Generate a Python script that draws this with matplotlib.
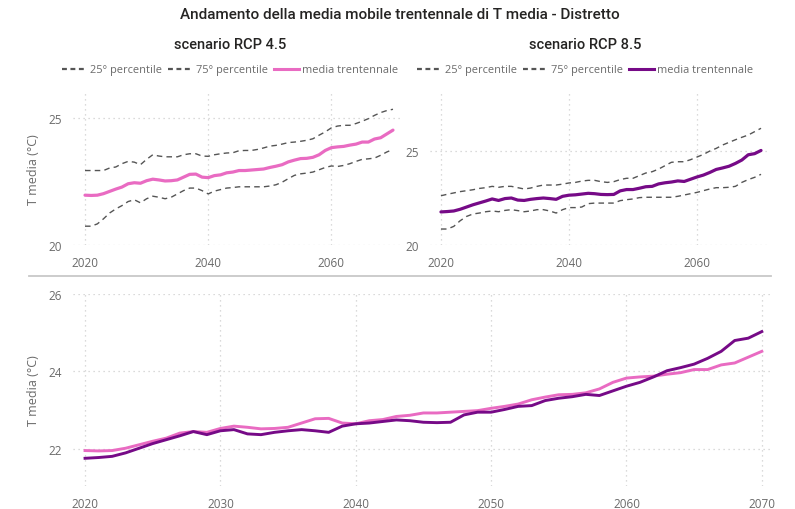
import matplotlib
matplotlib.use("Agg")
import matplotlib.pyplot as plt
from matplotlib.lines import Line2D

# anni della media mobile trentennale
anni = list(range(2020, 2071))

# scenario RCP 4.5
rcp45_media = [21.96, 21.95, 21.96, 22.02, 22.11, 22.20, 22.28, 22.41, 22.45, 22.43,
               22.53, 22.59, 22.56, 22.52, 22.53, 22.56, 22.67, 22.78, 22.79, 22.67,
               22.65, 22.73, 22.76, 22.84, 22.87, 22.93, 22.93, 22.95, 22.97, 22.99,
               23.05, 23.10, 23.16, 23.27, 23.34, 23.40, 23.41, 23.45, 23.55, 23.72,
               23.83, 23.86, 23.88, 23.93, 23.97, 24.05, 24.05, 24.17, 24.22, 24.37,
               24.52]
rcp45_p25 = [20.74, 20.74, 20.83, 21.03, 21.26, 21.42, 21.55, 21.71, 21.78, 21.66,
             21.82, 21.92, 21.88, 21.82, 21.88, 22.01, 22.14, 22.24, 22.24, 22.14,
             22.01, 22.12, 22.18, 22.24, 22.26, 22.29, 22.29, 22.29, 22.29, 22.29,
             22.32, 22.37, 22.47, 22.61, 22.74, 22.80, 22.83, 22.87, 22.96, 23.05,
             23.11, 23.09, 23.13, 23.20, 23.29, 23.37, 23.39, 23.42, 23.53, 23.66,
             23.76]
rcp45_p75 = [22.93, 22.93, 22.93, 22.93, 23.03, 23.07, 23.20, 23.29, 23.26, 23.16,
             23.37, 23.55, 23.50, 23.47, 23.47, 23.47, 23.55, 23.59, 23.59, 23.50,
             23.49, 23.55, 23.59, 23.62, 23.63, 23.71, 23.72, 23.72, 23.76, 23.82,
             23.89, 23.92, 23.97, 24.03, 24.05, 24.08, 24.12, 24.18, 24.32, 24.45,
             24.61, 24.68, 24.71, 24.71, 24.78, 24.87, 24.97, 25.10, 25.21, 25.29,
             25.34]

# scenario RCP 8.5
rcp85_media = [21.76, 21.78, 21.81, 21.90, 22.02, 22.14, 22.24, 22.34, 22.45, 22.37,
               22.47, 22.50, 22.39, 22.37, 22.43, 22.47, 22.50, 22.47, 22.43, 22.59,
               22.65, 22.67, 22.71, 22.75, 22.73, 22.69, 22.68, 22.69, 22.88, 22.95,
               22.95, 23.02, 23.10, 23.12, 23.25, 23.31, 23.35, 23.41, 23.38, 23.50,
               23.62, 23.72, 23.86, 24.02, 24.10, 24.19, 24.34, 24.52, 24.80, 24.86,
               25.03]
rcp85_p25 = [20.85, 20.85, 20.99, 21.29, 21.52, 21.65, 21.70, 21.77, 21.81, 21.77,
             21.84, 21.88, 21.83, 21.77, 21.81, 21.88, 21.88, 21.81, 21.70, 21.88,
             21.99, 21.99, 22.02, 22.20, 22.23, 22.23, 22.23, 22.23, 22.36, 22.41,
             22.45, 22.52, 22.54, 22.54, 22.54, 22.54, 22.54, 22.59, 22.66, 22.73,
             22.80, 22.89, 22.98, 23.05, 23.05, 23.07, 23.12, 23.33, 23.48, 23.60,
             23.76]
rcp85_p75 = [22.62, 22.70, 22.77, 22.84, 22.89, 22.94, 23.01, 23.05, 23.12, 23.07,
             23.12, 23.12, 23.05, 22.98, 23.03, 23.12, 23.19, 23.19, 23.19, 23.24,
             23.30, 23.33, 23.40, 23.44, 23.44, 23.37, 23.33, 23.37, 23.48, 23.55,
             23.55, 23.69, 23.83, 23.90, 24.04, 24.22, 24.40, 24.43, 24.43, 24.54,
             24.68, 24.82, 25.00, 25.14, 25.32, 25.46, 25.60, 25.73, 25.85, 26.03,
             26.21]

ROSA = "#e96bc2"
VIOLA = "#760a87"
TRATT = "#555555"
GRIGIO_TXT = "#6a6a6a"
GRIGLIA = "#cfcfcf"
DASH = (0, (4, 3))

plt.rcParams["font.family"] = ["Open Sans", "DejaVu Sans"]
TITLE_FONT = ["Roboto", "DejaVu Sans"]

W, H = 795, 510
fig = plt.figure(figsize=(W / 100, H / 100), dpi=100)


def box(x0, y0, x1, y1):
    # rettangolo in pixel (origine in alto a sinistra) -> frazioni di figura
    return [x0 / W, 1 - y1 / H, (x1 - x0) / W, (y1 - y0) / H]


def stile(ax, yticks, xticks):
    for s in ax.spines.values():
        s.set_visible(False)
    ax.set_yticks(yticks)
    ax.set_xticks(xticks)
    ax.tick_params(length=0, colors=GRIGIO_TXT, labelsize=8.5, pad=8)
    ax.grid(True, color=GRIGLIA, linestyle=(0, (1, 3)), linewidth=0.9)
    ax.set_axisbelow(True)


def pannello(ax, media, p25, p75, colore, ylim, xlim):
    ax.plot(anni, p25, color=TRATT, lw=1.0, ls=DASH)
    ax.plot(anni, p75, color=TRATT, lw=1.0, ls=DASH)
    ax.plot(anni, media, color=colore, lw=2.3, solid_capstyle="round")
    ax.set_ylim(*ylim)
    ax.set_xlim(*xlim)
    stile(ax, [20, 25], [2020, 2040, 2060])


ax1 = fig.add_axes(box(73, 93, 400, 246))
pannello(ax1, rcp45_media, rcp45_p25, rcp45_p75, ROSA, (20, 26.02), (2018.05, 2071.14))
ax1.set_ylabel("T media (°C)", color=GRIGIO_TXT, fontsize=9, labelpad=6)

ax2 = fig.add_axes(box(430, 93, 768, 246))
pannello(ax2, rcp85_media, rcp85_p25, rcp85_p75, VIOLA, (20, 28.14), (2018.29, 2071.09))

ax3 = fig.add_axes(box(73, 295, 771, 487))
ax3.plot(anni, rcp45_media, color=ROSA, lw=2.1)
ax3.plot(anni, rcp85_media, color=VIOLA, lw=2.1)
ax3.set_ylim(21.045, 26)
ax3.set_xlim(2019.11, 2070.68)
stile(ax3, [22, 24, 26], [2020, 2030, 2040, 2050, 2060, 2070])
ax3.set_ylabel("T media (°C)", color=GRIGIO_TXT, fontsize=9, labelpad=6)

# titoli
fig.text(400 / W, 1 - 15 / H, "Andamento della media mobile trentennale di T media - Distretto",
         ha="center", va="center", fontsize=11, color="#252423", family=TITLE_FONT,
         weight="medium")
fig.text(230 / W, 1 - 45 / H, "scenario RCP 4.5", ha="center", va="center",
         fontsize=10.5, color="#252423", family=TITLE_FONT, weight="medium")
fig.text(585 / W, 1 - 45 / H, "scenario RCP 8.5", ha="center", va="center",
         fontsize=10.5, color="#252423", family=TITLE_FONT, weight="medium")

# legende
for cx, colore in [(230, ROSA), (585, VIOLA)]:
    handles = [Line2D([], [], color=TRATT, lw=1.6, ls=(0, (2.2, 1.6))),
               Line2D([], [], color=TRATT, lw=1.6, ls=(0, (2.2, 1.6))),
               Line2D([], [], color=colore, lw=2.2)]
    fig.legend(handles, ["25° percentile", "75° percentile", "media trentennale"],
               loc="center", bbox_to_anchor=(cx / W, 1 - 71 / H), ncol=3,
               frameon=False, fontsize=7.9, labelcolor=GRIGIO_TXT,
               handlelength=2.3, handletextpad=0.3, columnspacing=0.5,
               borderaxespad=0, borderpad=0)

# linea di separazione tra i pannelli
fig.add_artist(Line2D([29 / W, 771 / W], [1 - 277 / H, 1 - 277 / H],
                      color="#c8c8c8", lw=1.3, transform=fig.transFigure))

fig.savefig("out.png", dpi=100)
